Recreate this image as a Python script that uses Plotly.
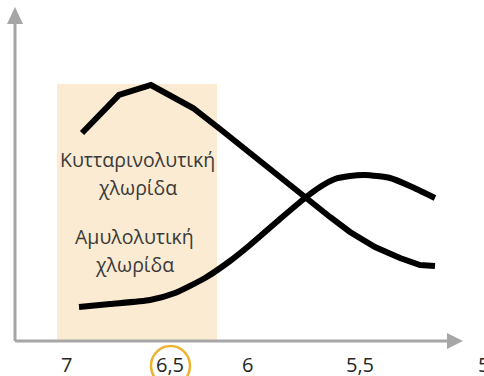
import plotly.graph_objects as go

# Καμπύλες (θέσεις στον άξονα x, ύψος στον άξονα y - σχηματικό διάγραμμα)
kyttarino_x = [82, 119, 151, 193, 220, 250, 280, 305, 330, 350, 375, 400, 420, 435]
kyttarino_y = [133, 95, 85, 108, 129, 153, 178, 198, 217, 232, 247, 258, 265, 266]

amylo_x = [79, 110, 150, 175, 205, 230, 250, 280, 305, 320, 335, 350, 365, 390, 410, 435]
amylo_y = [307, 304, 300, 293, 278, 261, 245, 219, 198, 187, 179, 176, 175, 178, 186, 198]

# Ετικέτες άξονα pH
tick_labels = ["7", "6,5", "6", "5,5", "5"]
tick_pos = [66, 170, 247, 360, 483.5]

# Ζώνη βέλτιστου pH
zone_x = [57, 217]
zone_top = 84

axis_color = "#A6A6A6"
text_color = "#3A3A3A"
font_name = "Open Sans, sans-serif"

fig = go.Figure()

# Σκιασμένη περιοχή
fig.add_shape(type="rect", x0=zone_x[0], x1=zone_x[1], y0=zone_top, y1=341,
              fillcolor="#FBEBD2", line=dict(width=0), layer="below")

# Άξονες
fig.add_shape(type="line", x0=15, x1=450, y0=341, y1=341,
              line=dict(color=axis_color, width=3))
fig.add_shape(type="line", x0=15, x1=15, y0=341, y1=20,
              line=dict(color=axis_color, width=3))
# Βέλη
fig.add_shape(type="path", path="M 447 333 L 463 341 L 447 349 Z",
              fillcolor=axis_color, line=dict(width=0))
fig.add_shape(type="path", path="M 7 24 L 15 7 L 23 24 Z",
              fillcolor=axis_color, line=dict(width=0))

fig.add_trace(go.Scatter(x=kyttarino_x, y=kyttarino_y, mode="lines",
                         line=dict(color="black", width=6), hoverinfo="skip"))
fig.add_trace(go.Scatter(x=amylo_x, y=amylo_y, mode="lines",
                         line=dict(color="black", width=6, shape="spline", smoothing=0.6),
                         hoverinfo="skip"))

# Κείμενα
labels = [("Κυτταρινολυτική", 137, 159), ("χλωρίδα", 137, 187),
          ("Αμυλολυτική", 134, 236), ("χλωρίδα", 134, 264)]
for txt, x, y in labels:
    fig.add_annotation(x=x, y=y, text=txt, showarrow=False,
                       font=dict(family=font_name, size=19.5, color=text_color))

for lab, x in zip(tick_labels, tick_pos):
    fig.add_annotation(x=x, y=364, text=lab, showarrow=False,
                       font=dict(family=font_name, size=20, color="#262626"))

# Κύκλος γύρω από το 6,5
fig.add_shape(type="circle", x0=151, x1=190, y0=346, y1=386,
              line=dict(color="#EDB230", width=2.5))

fig.update_layout(
    width=484, height=376,
    margin=dict(l=0, r=0, t=0, b=0),
    showlegend=False,
    plot_bgcolor="white",
    paper_bgcolor="white",
    xaxis=dict(range=[0, 484], visible=False, fixedrange=True),
    yaxis=dict(range=[376, 0], visible=False, fixedrange=True),
)

fig.write_html("out.html", config={"displayModeBar": False},
               post_script="document.body.style.margin='0';")
